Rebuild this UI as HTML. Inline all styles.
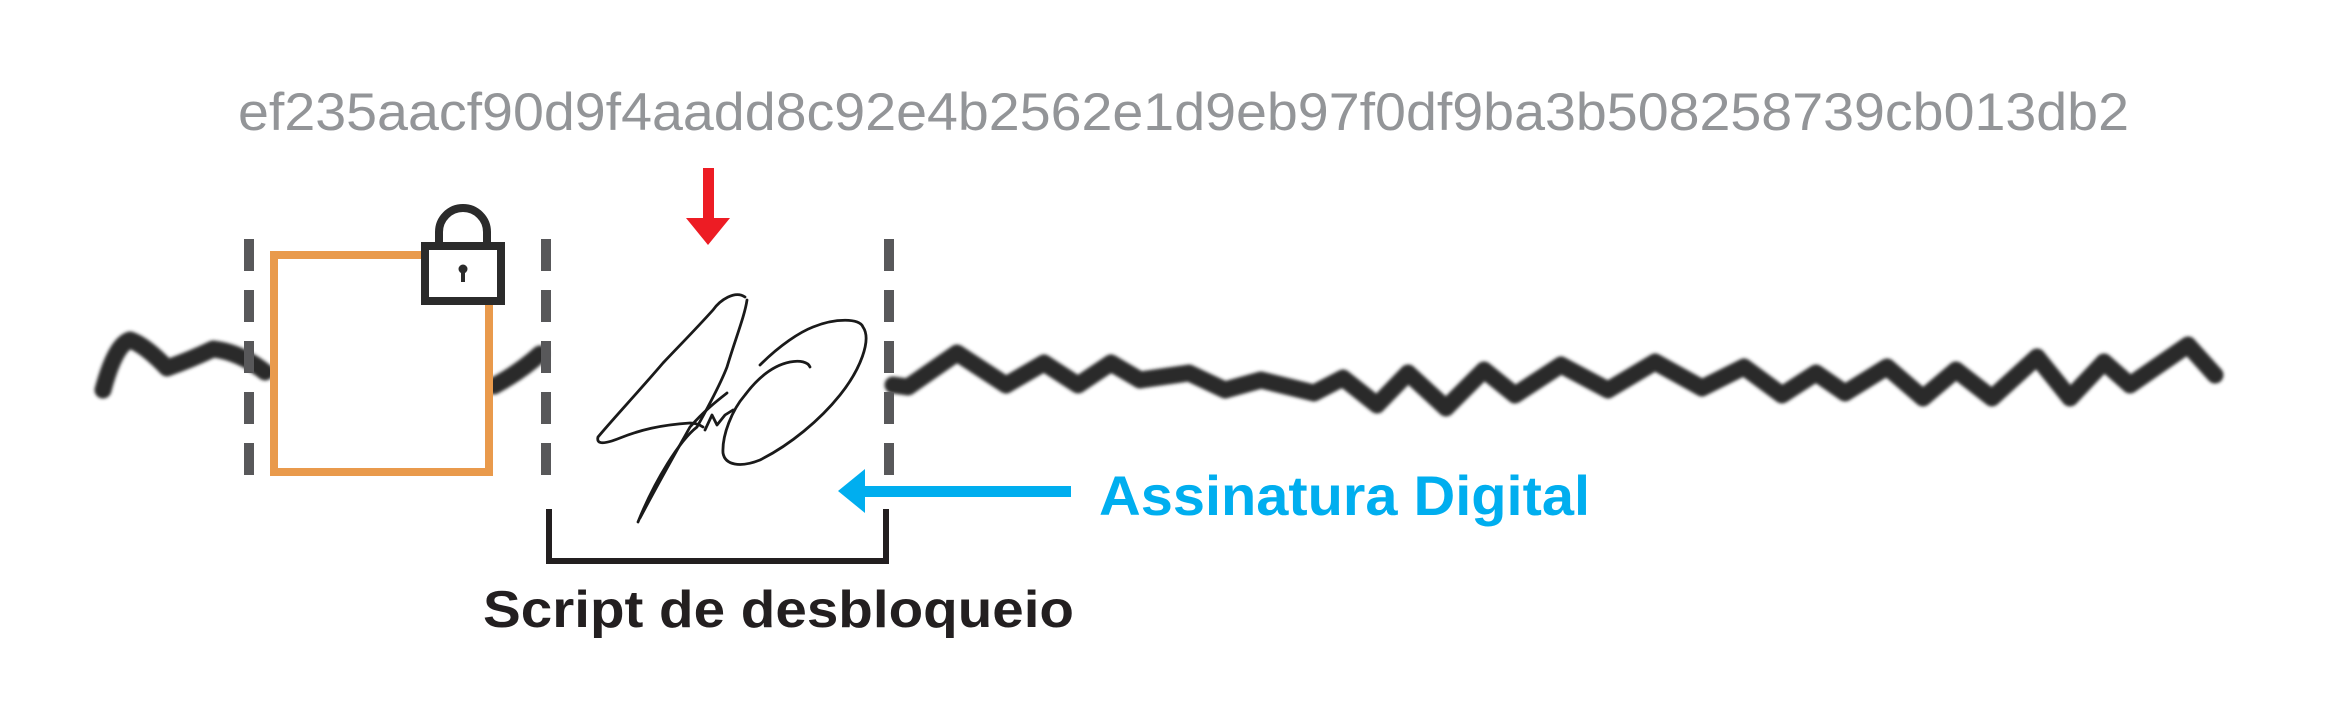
<!DOCTYPE html>
<html><head><meta charset="utf-8"><style>html,body{margin:0;padding:0;background:#fff}svg{display:block}</style></head>
<body>
<svg width="2332" height="720" viewBox="0 0 2332 720" xmlns="http://www.w3.org/2000/svg">
<defs><filter id="b" x="-5%" y="-50%" width="110%" height="200%"><feGaussianBlur stdDeviation="1.5"/></filter></defs>
<text x="238" y="130" font-family="Liberation Sans, sans-serif" font-size="53" fill="#939598" textLength="1891" lengthAdjust="spacingAndGlyphs">ef235aacf90d9f4aadd8c92e4b2562e1d9eb97f0df9ba3b508258739cb013db2</text>
<g fill="none" stroke="#2b2b2b" stroke-width="17" stroke-linejoin="round" stroke-linecap="round" filter="url(#b)">
<path d="M103 390 Q115 345 130 340 Q145 345 167 368 Q190 360 213 349 Q240 352 265 372"/>
<path d="M494 386 Q520 372 540 354"/>
<path d="M893 385 L908 387 L957 353 L1006 385 L1044 363 L1078 385 L1111 363 L1140 380 L1189 373 L1225 390 L1261 380 L1314 393 L1343 378 L1377 405 L1408 373 L1446 408 L1484 370 L1515 395 L1561 365 L1608 390 L1655 362 L1702 388 L1744 367 L1782 395 L1816 373 L1845 393 L1887 367 L1923 398 L1956 370 L1992 398 L2037 357 L2070 398 L2104 362 L2130 385 L2188 345 L2215 375"/>
</g>
<g stroke="#58585a" stroke-width="10" stroke-dasharray="32 19">
<line x1="249" y1="239" x2="249" y2="476"/>
<line x1="546" y1="239" x2="546" y2="476"/>
<line x1="889" y1="239" x2="889" y2="476"/>
</g>
<rect x="274" y="255" width="215" height="217" fill="#fff" stroke="#e99a4c" stroke-width="8"/>
<path d="M439 248 V232 A24 24 0 0 1 487 232 V248" fill="none" stroke="#2b2b2b" stroke-width="8"/>
<rect x="425" y="246" width="76" height="55" fill="#fff" stroke="#2b2b2b" stroke-width="8"/>
<circle cx="463" cy="269" r="4.5" fill="#2b2b2b"/><rect x="461" y="269" width="4" height="13" fill="#2b2b2b"/>
<rect x="703" y="168" width="11" height="52" fill="#ed1c24"/>
<polygon points="686,218 730,218 708,245" fill="#ed1c24"/>
<g fill="none" stroke="#1a1a1a" stroke-width="2.8" stroke-linecap="round" stroke-linejoin="round">
<path d="M638 522 C655 480 680 440 697 427 C712 400 722 380 727 367 C735 340 745 315 747 300"/>
<path d="M745 297 C735 290 720 300 713 310 C695 330 680 345 663 363 C640 390 612 420 598 437 C596 445 605 444 620 438 C640 430 660 425 690 423 C696 423 700 425 703 427"/>
<path d="M640 518 C660 480 680 445 690 427 C705 410 718 400 727 393"/>
<path d="M705 430 L712 415 L717 425 L725 415 L733 410"/>
<path d="M760 365 C780 345 800 332 813 327 C835 318 860 318 863 327 C872 340 860 370 840 395 C820 420 790 445 760 460 C740 468 725 465 723 453 C722 435 732 410 745 395 C760 375 775 365 790 362 C800 360 808 362 810 367"/>
</g>
<rect x="862" y="486" width="209" height="11" fill="#00aeef"/>
<polygon points="838,491 865,469 865,513" fill="#00aeef"/>
<text x="1099" y="515" font-family="Liberation Sans, sans-serif" font-weight="bold" font-size="56" fill="#00aeef" textLength="491" lengthAdjust="spacingAndGlyphs">Assinatura Digital</text>
<path d="M549 509 V561 H886 V509" fill="none" stroke="#231f20" stroke-width="6"/>
<text x="483" y="627" font-family="Liberation Sans, sans-serif" font-weight="bold" font-size="52" fill="#231f20" textLength="591" lengthAdjust="spacingAndGlyphs">Script de desbloqueio</text>
</svg>
</body></html>
